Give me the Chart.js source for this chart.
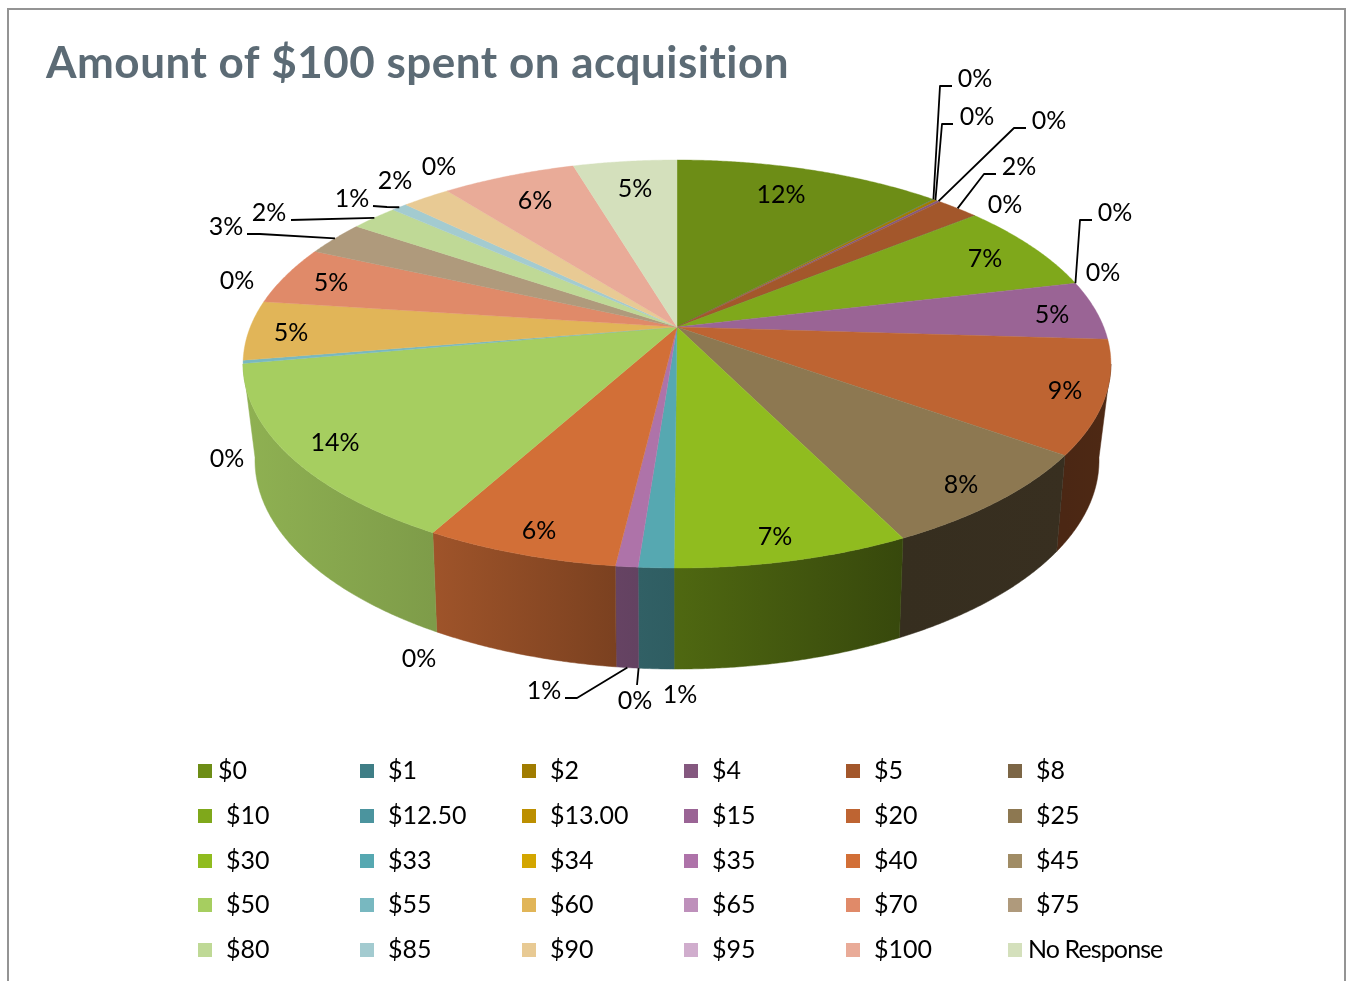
<!DOCTYPE html>
<html><head><meta charset="utf-8">
<style>html,body{margin:0;padding:0;background:#fff;overflow:hidden}canvas{display:block}</style>
<script src="https://cdn.jsdelivr.net/npm/chart.js@4"></script>
</head><body><canvas id="c" width="1346" height="981"></canvas>
<script>
const titleText = 'Amount of $100 spent on acquisition';
const categories = ['$0','$1','$2','$4','$5','$8','$10','$12.50','$13.00','$15','$20','$25','$30','$33','$34','$35','$40','$45','$50','$55','$60','$65','$70','$75','$80','$85','$90','$95','$100','No Response'];
const values = [11.9,0.03,0.18,0.15,1.9,0.02,7.1,0,0,4.7,8.9,7.8,7.4,1.1,0,0.7,6.1,0,14.15,0.25,4.7,0,4.65,2.75,2.1,0.7,2.15,0,5.95,4.6];
const percentLabels = ['12%','0%','0%','0%','2%','0%','7%','0%','0%','5%','9%','8%','7%','1%','0%','1%','6%','0%','14%','0%','5%','0%','5%','3%','2%','1%','2%','0%','6%','5%'];
const sliceColors = ['#6D8D16','#3F7E86','#A07C00','#84587F','#A3572B','#7C6646','#7FA81B','#4B949E','#BC8F00','#9A6495','#BE6432','#8D7851','#90BC1F','#56A8B1','#D3A600','#AE73A9','#D26F37','#A08C65','#A6CE60','#78B8C0','#E1B558','#BE90BB','#E08A69','#AF9A7C','#BFD996','#A3CBD0','#E8CA94','#D0ADCD','#E9AB98','#D4E0BC'];
// text placement of each percent label (centre of text)
const labelPlacement = [[781,195],[975,79],[977,117],[1049,121],[1019,167],[1005,205],[985,259],[1115,213],[1103,273],[1052,315],[1065,391],[961,485],[775,537],[680,695],[635,701],[544,691],[539,531],[419,659],[335,443],[227,459],[291,333],[237,281],[331,283],[226,227],[269,213],[352,199],[395,181],[439,167],[535,201],[635,189]];
// leader lines: slice index -> bend points running out to the label; "low" starts on the lower rim
const leaderBends = {1:{pts:[[940,86],[952,86]]},2:{pts:[[942,124],[953,124]]},3:{pts:[[1014,128],[1026,128]]},4:{pts:[[984,174],[996,174]]},7:{pts:[[1080,220],[1092,220]]},14:{low:true,pts:[[637,685]]},15:{low:true,pts:[[577,698],[565,698]]},23:{pts:[[260,234],[247,234]]},24:{pts:[[291,220]]},25:{pts:[[387,207],[373,206]]}};
const legendColumnsX = [198,360,522,684,846,1008];
const legendRowsY = [771,816,861,905,950];
const legendTextNudge = {0:-8,29:-8};
const wallShade = [[100,.41],[150,.38],[153,.38],[180,.55],[186,.58],[209,.76],[260,.86]];

const FONT = 'Lato, sans-serif';
// perspective of the upper and lower rim, relative to the library's pie radius
const TOP_RIM = {k:0.1814, ax:1.778, by:0.8221, drop:0};
const LOW_RIM = {k:0.195, ax:1.7246, by:0.8363, drop:0.3863};

function shadeAt(deg){
  for(let i=1;i<wallShade.length;i++){
    const [a,sa]=wallShade[i-1],[b,sb]=wallShade[i];
    if(deg<=b) return sa+(sb-sa)*Math.max(0,(deg-a))/(b-a);
  }
  return wallShade[wallShade.length-1][1];
}
function darken(hex,f){
  const n=parseInt(hex.slice(1),16);
  return `rgb(${Math.round((n>>16&255)*f)},${Math.round((n>>8&255)*f)},${Math.round((n&255)*f)})`;
}
function projector(el){
  const R=el.outerRadius,cx=el.x,cy=el.y;
  return (th,low)=>{
    const m=low?LOW_RIM:TOP_RIM,u=Math.sin(th),v=-Math.cos(th),w=1-m.k*v;
    return [cx+m.ax*R*u/w, cy+m.drop*R+m.by*R*v/w];
  };
}
const perspectivePie = {
  id:'perspectivePie',
  beforeDatasetDraw(chart,args){
    const ctx=chart.ctx, arcs=args.meta.data;
    const cx=arcs[0].x, cy=arcs[0].y, proj=projector(arcs[0]);
    const TH=a=>a+Math.PI/2;
    const tangent=Math.acos(-TOP_RIM.k);
    const visA=tangent, visB=2*Math.PI-tangent;
    arcs.forEach((el,i)=>{
      const a=Math.max(TH(el.startAngle),visA), b=Math.min(TH(el.endAngle),visB);
      if(b<=a) return;
      const pa=proj(a,false), pb=proj(b,false);
      const g=ctx.createLinearGradient(pa[0],0,pb[0]+(pb[0]===pa[0]?1:0),0);
      g.addColorStop(0,darken(sliceColors[i],shadeAt(a*180/Math.PI)));
      g.addColorStop(1,darken(sliceColors[i],shadeAt(b*180/Math.PI)));
      ctx.beginPath();
      const n=Math.max(2,Math.ceil((b-a)*180));
      for(let k=0;k<=n;k++){const p=proj(a+(b-a)*k/n,false);k?ctx.lineTo(p[0],p[1]):ctx.moveTo(p[0],p[1]);}
      for(let k=n;k>=0;k--){const p=proj(a+(b-a)*k/n,true);ctx.lineTo(p[0],p[1]);}
      ctx.closePath();
      ctx.fillStyle=g;ctx.strokeStyle=g;ctx.lineWidth=.5;ctx.fill();ctx.stroke();
    });
    arcs.forEach((el,i)=>{
      const a=TH(el.startAngle), b=TH(el.endAngle);
      if(b-a<=0) return;
      ctx.beginPath();ctx.moveTo(cx,cy);
      const n=Math.max(2,Math.ceil((b-a)*180));
      for(let k=0;k<=n;k++){const p=proj(a+(b-a)*k/n,false);ctx.lineTo(p[0],p[1]);}
      ctx.closePath();
      ctx.fillStyle=sliceColors[i];ctx.fill();
      ctx.strokeStyle=sliceColors[i];ctx.lineWidth=.4;ctx.stroke();
    });
    return false;
  },
  afterDatasetsDraw(chart){
    const ctx=chart.ctx, arcs=chart.getDatasetMeta(0).data, proj=projector(arcs[0]);
    ctx.save();
    ctx.strokeStyle='#000';ctx.lineWidth=1.8;ctx.lineJoin='round';
    Object.keys(leaderBends).forEach(k=>{
      const el=arcs[+k], L=leaderBends[k];
      const p=proj((el.startAngle+el.endAngle)/2+Math.PI/2,!!L.low);
      ctx.beginPath();ctx.moveTo(p[0],p[1]);
      L.pts.forEach(q=>ctx.lineTo(q[0],q[1]));
      ctx.stroke();
    });
    ctx.fillStyle='#000';ctx.font='25px '+FONT;ctx.textAlign='center';ctx.textBaseline='middle';
    ctx.letterSpacing='0px';
    percentLabels.forEach((t,i)=>ctx.fillText(t,labelPlacement[i][0],labelPlacement[i][1]));
    ctx.textAlign='left';
    categories.forEach((t,i)=>{
      const c=i%6,r=Math.floor(i/6),x=legendColumnsX[c],y=legendRowsY[r];
      ctx.fillStyle=sliceColors[i];ctx.fillRect(x,y-7,14,14);
      ctx.fillStyle='#000';
      ctx.letterSpacing=i===29?'-0.9px':'0px';
      ctx.fillText(t,x+28+(legendTextNudge[i]||0),y);
    });
    ctx.fillStyle='#5C6B75';ctx.font='bold 44px '+FONT;ctx.letterSpacing='0.5px';ctx.textBaseline='alphabetic';
    ctx.fillText(titleText,46,78);
    ctx.restore();
    ctx.save();ctx.strokeStyle='#949494';ctx.lineWidth=2;
    ctx.beginPath();ctx.moveTo(8,981);ctx.lineTo(8,9);ctx.lineTo(1345,9);ctx.lineTo(1345,981);ctx.stroke();
    ctx.restore();
  }
};
new Chart(document.getElementById('c'),{
  type:'pie',
  data:{labels:categories,datasets:[{data:values,backgroundColor:sliceColors,borderWidth:0}]},
  options:{responsive:false,animation:false,
    layout:{padding:{left:437,right:429,top:87,bottom:414}},
    plugins:{legend:{display:false},title:{display:false},tooltip:{enabled:false}}},
  plugins:[perspectivePie]
});
</script></body></html>
